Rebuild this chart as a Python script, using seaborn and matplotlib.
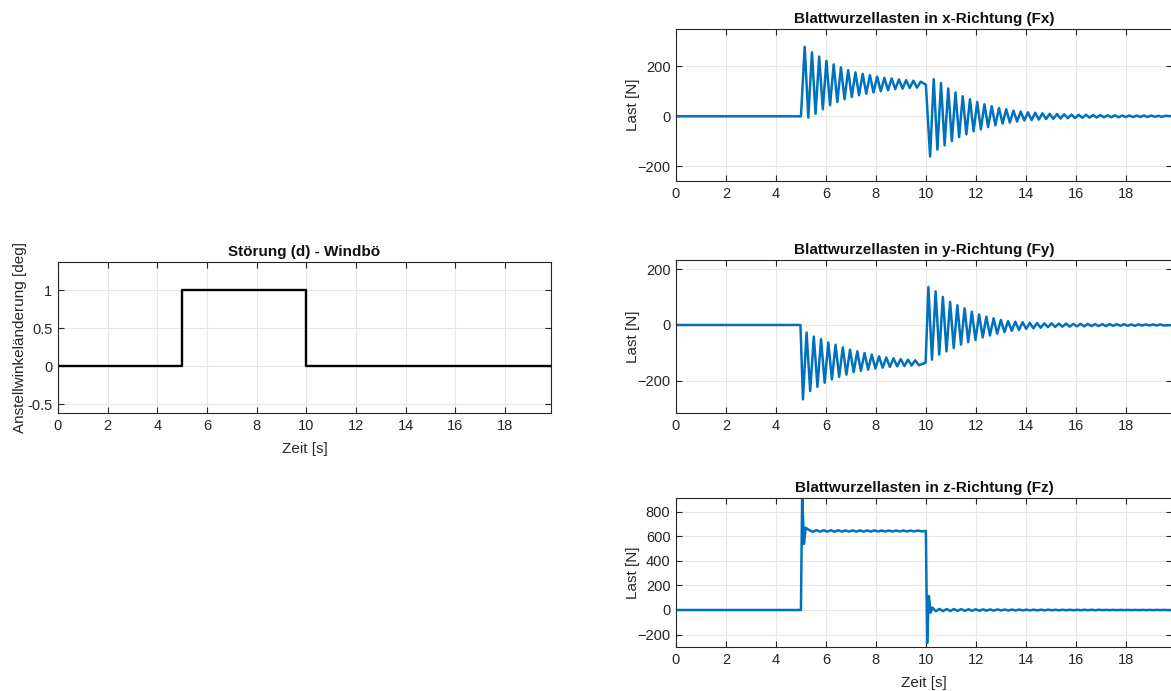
import numpy as np
import pandas as pd
import matplotlib
matplotlib.use("Agg")
import matplotlib.pyplot as plt
import seaborn as sns

# ---------------- data ----------------
T_END = 19.85
HALF_PERIOD = 0.145  # spacing between successive extrema of the oscillation

# disturbance: pitch-angle step (gust)
dist_t = [0.0, 5.0, 5.0, 10.0, 10.0, T_END]
dist_v = [0.0, 0.0, 1.0, 1.0, 0.0, 0.0]

# Fx: alternating extrema after gust onset (start with peak at 5.15 s)
fx_ext_on = [277, -5, 255, 10, 238, 28, 221, 44, 207, 57, 195, 68, 184, 77, 175, 84,
             169, 90, 164, 95, 158, 100, 153, 104, 151, 108, 147, 110, 144, 113, 142, 114, 138]
fx_level_on = 126
# Fx: alternating extrema after gust end (start with trough at 10.17 s)
fx_ext_off = [-160, 148, -133, 133, -116, 111, -99, 95, -83, 80, -72, 68, -60, 57, -52, 48,
              -43, 40, -36, 33, -29, 28, -25, 23, -21, 19, -17, 16, -15, 14, -13, 12, -11, 10,
              -10, 9, -9, 8, -8, 7, -7, 6, -6, 6, -5, 5, -5, 5, -4, 4, -4, 4, -4, 3, -3, 3,
              -3, 3, -3, 3, -3, 3, -2, 2, -2, 2]

# Fy: alternating extrema after gust onset (start with trough at 5.08 s)
fy_ext_on = [-268, -27, -238, -42, -223, -51, -208, -63, -196, -71, -187, -81, -179, -89, -170, -95,
             -165, -101, -161, -107, -157, -113, -154, -117, -151, -120, -149, -123, -148, -125,
             -146, -127, -145]
fy_level_on = -136
# Fy: alternating extrema after gust end (start with peak at 10.10 s)
fy_ext_off = [137, -125, 121, -107, 101, -95, 83, -83, 71, -71, 60, -62, 48, -54, 38, -45, 30, -38,
              24, -31, 18, -26, 14, -21, 12, -18, 10, -14, 8, -12, 7, -10, 6, -8, 6, -7, 5, -6, 5,
              -6, 4, -5, 4, -5, 4, -4, 3, -4, 3, -4, 3, -3, 3, -3, 3, -3, 2, -3, 2, -2, 2, -2, 2,
              -2, 2, -2]

# Fz: initial transient at gust onset, then ripple around the new level
fz_onset_t = [5.0, 5.05, 5.12, 5.19]
fz_onset_v = [0, 960, 539, 672]
fz_ripple_on = [652, 638, 652, 639, 651, 639, 651, 639, 651, 640, 650, 640, 650, 640, 650, 640,
                650, 640, 650, 641, 649, 641, 649, 641, 649, 641, 649, 641, 649, 641, 649, 642]
fz_level_on = 645
fz_off_t = [10.0, 10.05, 10.12, 10.19, 10.26]
fz_off_v = [645, -270, 114, -22, 20]
fz_ripple_off = [-10, 9, -9, 8, -8, 8, -7, 7, -7, 6, -6, 6, -6, 5, -5, 5, -5, 5, -4, 4, -4, 4, -4, 4,
                 -3, 3, -3, 3, -3, 3, -3, 3, -2, 2, -2, 2, -2, 2, -2, 2, -2, 2, -2, 2, -2, 2, -1, 1,
                 -1, 1, -1, 1, -1, 1, -1, 1, -1, 1, -1, 1, -1, 1, -1, 1, -1]

titles = ["Blattwurzellasten in x-Richtung (Fx)",
          "Blattwurzellasten in y-Richtung (Fy)",
          "Blattwurzellasten in z-Richtung (Fz)"]


def seq(t_first, values):
    t = [t_first + k * HALF_PERIOD for k in range(len(values))]
    return t, list(values)


# assemble Fx
t1, v1 = seq(5.15, fx_ext_on)
t2, v2 = seq(10.17, fx_ext_off)
fx_t = [0.0, 5.0] + t1 + [10.0] + t2 + [T_END]
fx_v = [0, 0] + v1 + [fx_level_on] + v2 + [0]

# assemble Fy
t1, v1 = seq(5.08, fy_ext_on)
t2, v2 = seq(10.10, fy_ext_off)
fy_t = [0.0, 4.98] + t1 + [9.99] + t2 + [T_END]
fy_v = [0, 0] + v1 + [fy_level_on] + v2 + [0]

# assemble Fz
t1, v1 = seq(5.33, fz_ripple_on)
t2, v2 = seq(10.40, fz_ripple_off)
fz_t = [0.0] + fz_onset_t + t1 + fz_off_t + t2 + [T_END]
fz_v = [0] + fz_onset_v + v1 + fz_off_v + v2 + [0]

# ---------------- styling ----------------
sns.set_theme(style="white")
plt.rcParams['font.family'] = ['Liberation Sans', 'DejaVu Sans']
DARK = '#262626'
BLUE = '#0072BD'
GRID = '#e6e6e6'

W, H = 1171, 691
fig = plt.figure(figsize=(W / 100, H / 100), dpi=100)


def add_ax(left, top, right, bottom):
    return fig.add_axes([left / W, 1 - bottom / H, (right - left) / W, (bottom - top) / H])


def style(ax, ylim, yticks, title, ylabel, xlabel=None, ylabelpad=1):
    ax.set_xlim(0, T_END)
    ax.set_ylim(*ylim)
    ax.set_xticks(np.arange(0, 19, 2))
    ax.set_yticks(yticks)
    ax.grid(True, color=GRID, linewidth=0.8)
    ax.set_axisbelow(True)
    for s in ax.spines.values():
        s.set_color(DARK)
        s.set_linewidth(0.8)
        s.set_visible(True)
    ax.tick_params(direction='in', length=4, width=0.8, colors=DARK, labelsize=10.5,
                   top=True, right=True, bottom=True, left=True, pad=4)
    ax.set_title(title, fontsize=11, fontweight='bold', color='#111111', pad=4)
    ax.set_ylabel(ylabel, fontsize=11, color=DARK, labelpad=ylabelpad)
    if xlabel:
        ax.set_xlabel(xlabel, fontsize=11, color=DARK, labelpad=7)
    else:
        ax.set_xlabel('')


# left: disturbance
ax0 = add_ax(58, 262, 551, 413)
sns.lineplot(x=dist_t, y=dist_v, ax=ax0, color='black', linewidth=1.7,
             estimator=None, sort=False)
style(ax0, (-0.615, 1.37), [-0.5, 0, 0.5, 1], "Störung (d) - Windbö",
      "Anstellwinkeländerung [deg]", "Zeit [s]", ylabelpad=0)
ax0.set_yticklabels(['-0.5', '0', '0.5', '1'])

# right: loads
LW = 1.8
axx = add_ax(676, 29, 1172, 181)
sns.lineplot(x=fx_t, y=fx_v, ax=axx, color=BLUE, linewidth=LW, estimator=None, sort=False)
style(axx, (-258, 348), [-200, 0, 200], titles[0], "Last [N]", ylabelpad=-2)

axy = add_ax(676, 260, 1172, 413)
sns.lineplot(x=fy_t, y=fy_v, ax=axy, color=BLUE, linewidth=LW, estimator=None, sort=False)
style(axy, (-317, 234), [-200, 0, 200], titles[1], "Last [N]", ylabelpad=-2)

axz = add_ax(676, 498, 1172, 647)
sns.lineplot(x=fz_t, y=fz_v, ax=axz, color=BLUE, linewidth=LW, estimator=None, sort=False)
style(axz, (-302, 914), [-200, 0, 200, 400, 600, 800], titles[2], "Last [N]", "Zeit [s]",
      ylabelpad=-2)

fig.savefig("out.png", dpi=100)
